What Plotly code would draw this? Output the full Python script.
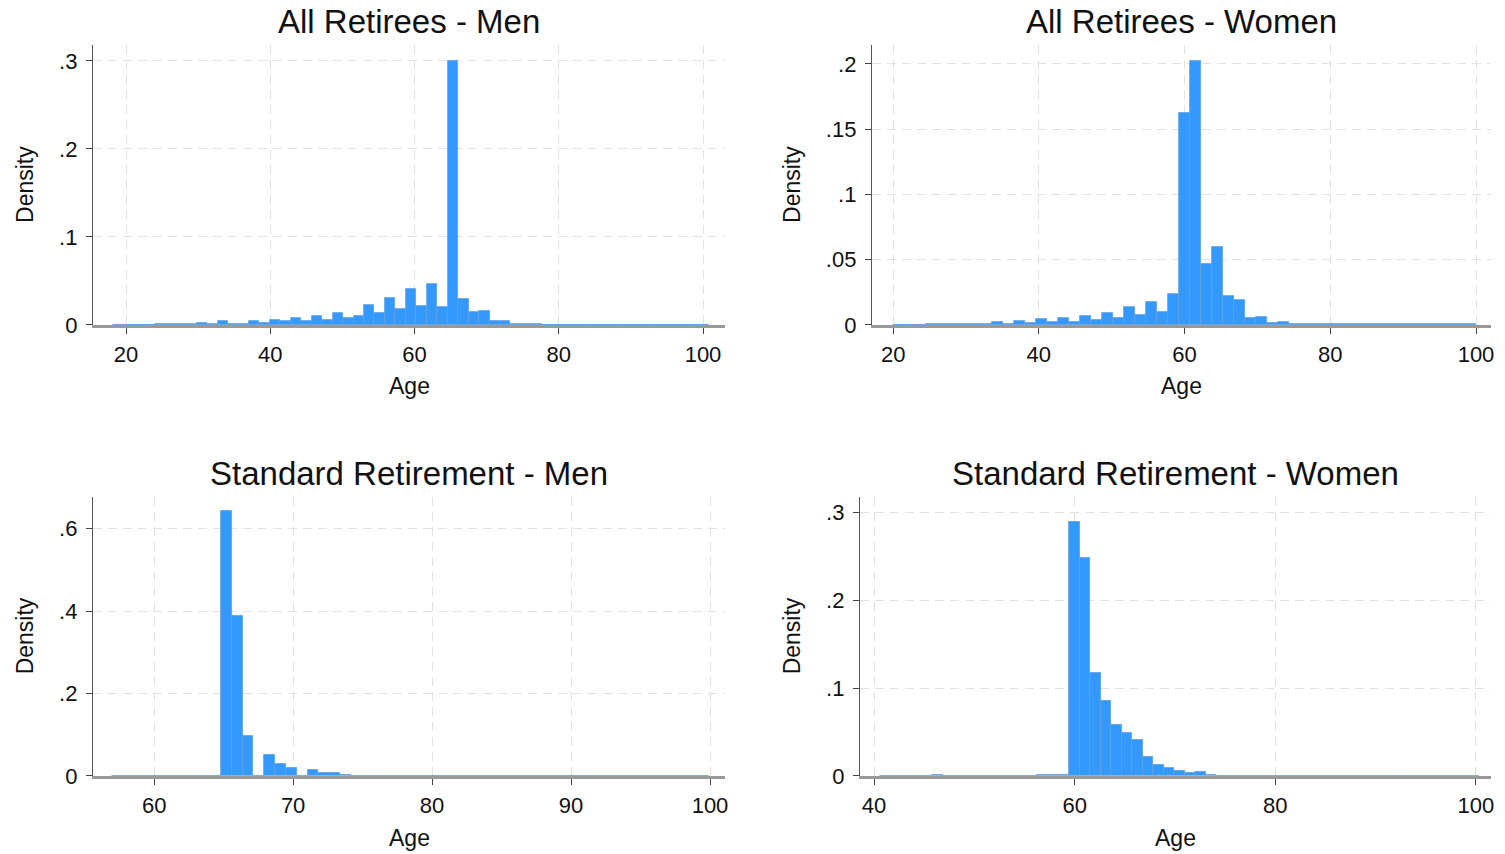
import plotly.graph_objects as go

# ---------------- data (histogram densities, bin start & width) ----------------
men_all_start = 18.2
men_all_width = 1.45
men_all_density = [
    0.0003, 0.0003, 0.0005, 0.0005, 0.0008, 0.0008, 0.001, 0.001, 0.002, 0.001,
    0.004, 0.0015, 0.0015, 0.004, 0.002, 0.006, 0.004, 0.008, 0.004, 0.010,
    0.006, 0.014, 0.008, 0.010, 0.023, 0.014, 0.031, 0.018, 0.041, 0.022,
    0.046, 0.020, 0.300, 0.029, 0.015, 0.016, 0.004, 0.004, 0.001, 0.001,
    0.0006, 0.0005, 0.0005, 0.0005, 0.0005, 0.0005, 0.0005, 0.0005, 0.0005, 0.0005,
    0.0005, 0.0005, 0.0005, 0.0005, 0.0005, 0.0005, 0.0005,
]

women_all_start = 20.0
women_all_width = 1.509
women_all_density = [
    0.0003, 0.0003, 0.0003, 0.0005, 0.0005, 0.0007, 0.0007, 0.001, 0.001, 0.0023,
    0.001, 0.003, 0.0018, 0.0043, 0.0026, 0.0056, 0.0026, 0.0069, 0.0038, 0.0095,
    0.0054, 0.0135, 0.0079, 0.0179, 0.0102, 0.0238, 0.1627, 0.2026, 0.0467, 0.060,
    0.0225, 0.0194, 0.0051, 0.0064, 0.0018, 0.0023, 0.0006, 0.0005, 0.0005, 0.0005,
    0.0005, 0.0005, 0.0005, 0.0005, 0.0005, 0.0005, 0.0005, 0.0005, 0.0005, 0.0005,
    0.0005, 0.0005, 0.0005,
]

men_std_start = 57.0
men_std_width = 0.78
men_std_density = [
    0.001, 0.001, 0.001, 0, 0, 0.001, 0.001, 0.001, 0, 0.001,
    0.643, 0.388, 0.098, 0, 0.051, 0.029, 0.020, 0, 0.015, 0.0065,
    0.006, 0.002, 0.001, 0.001, 0.001, 0.001, 0, 0.001, 0.001, 0.001,
    0.001, 0, 0.001, 0.001, 0.001, 0.001, 0.001, 0.001, 0.001, 0.001,
    0, 0.001, 0.001, 0.001, 0, 0.001, 0.001, 0.001, 0.001, 0,
    0.001, 0.001, 0, 0.001, 0.001,
]

women_std_start = 40.57
women_std_width = 1.048
women_std_density = [
    0, 0, 0, 0, 0, 0.0008, 0, 0, 0, 0,
    0, 0, 0, 0, 0, 0.0008, 0.0008, 0.0008, 0.289, 0.248,
    0.117, 0.085, 0.058, 0.049, 0.041, 0.022, 0.013, 0.009, 0.0053, 0.0034,
    0.0045, 0.0006, 0.0005, 0.0005, 0.0005, 0.0005, 0.0005, 0.0005, 0.0005, 0.0005,
    0.0005, 0.0005, 0.0005, 0.0005, 0.0005, 0.0005, 0.0005, 0.0005, 0.0005, 0.0005,
    0.0005, 0.0005, 0, 0.0005, 0.0005, 0.0005, 0.0005,
]

titles = ["All Retirees - Men", "All Retirees - Women",
          "Standard Retirement - Men", "Standard Retirement - Women"]

x_ticks = [[20, 40, 60, 80, 100], [20, 40, 60, 80, 100],
           [60, 70, 80, 90, 100], [40, 60, 80, 100]]
y_ticks = [[0, 0.1, 0.2, 0.3], [0, 0.05, 0.1, 0.15, 0.2],
           [0, 0.2, 0.4, 0.6], [0, 0.1, 0.2, 0.3]]
y_tick_text = [["0", ".1", ".2", ".3"], ["0", ".05", ".1", ".15", ".2"],
               ["0", ".2", ".4", ".6"], ["0", ".1", ".2", ".3"]]

# ---------------- layout geometry ----------------
W, H = 1505, 854
SX, SY = 0.998, 0.985          # screenshot scale compensation
x_ranges = [[15.42, 103.05], [17.1, 102.06], [55.6, 101.08], [38.6, 101.5]]
y_ranges = [[0, 0.318], [0, 0.2145], [0, 0.677], [0, 0.318]]
x_dom_px = [(93, 725), (872, 1491), (93, 725), (860, 1491)]
y_dom_px = [(45, 325), (45, 325), (497, 776), (497, 776)]


def px_x(v):
    return (v / SX) / W


def px_y(v):
    return 1 - (v / SY) / H


FONT = "Liberation Sans, Arial, sans-serif"
BAR = "#3399ff"

series = [
    (men_all_start, men_all_width, men_all_density),
    (women_all_start, women_all_width, women_all_density),
    (men_std_start, men_std_width, men_std_density),
    (women_std_start, women_std_width, women_std_density),
]

fig = go.Figure()
layout = dict(
    width=W, height=H, autosize=False,
    margin=dict(l=0, r=0, t=0, b=0),
    paper_bgcolor="white", plot_bgcolor="white",
    showlegend=False, bargap=0,
    font=dict(family=FONT, color="#111111"),
)

annotations = []
for k, (start, width, dens) in enumerate(series):
    n = k + 1
    xa = "x" if n == 1 else f"x{n}"
    ya = "y" if n == 1 else f"y{n}"
    centers = [start + width * (i + 0.5) for i in range(len(dens))]
    fig.add_trace(go.Bar(
        x=centers, y=dens, width=width, xaxis=xa, yaxis=ya,
        marker=dict(color=BAR, line=dict(color="#5f9fe0", width=0.8)),
        hoverinfo="x+y",
    ))
    x0, x1 = x_dom_px[k]
    y0, y1 = y_dom_px[k]
    layout[f"xaxis{'' if n == 1 else n}"] = dict(
        domain=[px_x(x0), px_x(x1)], range=x_ranges[k], anchor=ya,
        tickvals=x_ticks[k], ticktext=[str(v) for v in x_ticks[k]],
        ticks="outside", ticklen=6, tickwidth=1.3, tickcolor="#444444",
        showline=True, linecolor="#999999", linewidth=2.5,
        showgrid=True, gridcolor="#e2e2e2", gridwidth=1.2, griddash="9px,6px",
        zeroline=False, tickfont=dict(size=22, family=FONT, color="#111111"),
        layer="below traces", ticklabelstandoff=2,
    )
    layout[f"yaxis{'' if n == 1 else n}"] = dict(
        domain=[px_y(y1), px_y(y0)], range=y_ranges[k], anchor=xa,
        tickvals=y_ticks[k], ticktext=y_tick_text[k],
        ticks="outside", ticklen=6, tickwidth=1.3, tickcolor="#444444",
        showline=True, linecolor="#555555", linewidth=1.3,
        showgrid=True, gridcolor="#e2e2e2", gridwidth=1.2, griddash="9px,6px",
        zeroline=False, tickfont=dict(size=22, family=FONT, color="#111111"),
        layer="below traces", ticklabelstandoff=4,
    )
    cx = px_x((x0 + x1) / 2)
    title_y = 22 if k < 2 else 474
    age_y = 386 if k < 2 else 838
    dens_x = 25 if k % 2 == 0 else 792
    dens_y = (y0 + y1) / 2
    annotations.append(dict(text=titles[k], x=cx, y=px_y(title_y), xref="paper", yref="paper",
                            xanchor="center", yanchor="middle", showarrow=False,
                            font=dict(size=33, family=FONT, color="#111111")))
    annotations.append(dict(text="Age", x=cx, y=px_y(age_y), xref="paper", yref="paper",
                            xanchor="center", yanchor="middle", showarrow=False,
                            font=dict(size=23, family=FONT, color="#111111")))
    annotations.append(dict(text="Density", x=px_x(dens_x), y=px_y(dens_y), xref="paper", yref="paper",
                            xanchor="center", yanchor="middle", showarrow=False, textangle=-90,
                            font=dict(size=23, family=FONT, color="#111111")))

layout["annotations"] = annotations
fig.update_layout(**layout)
fig.write_html("out.html")
